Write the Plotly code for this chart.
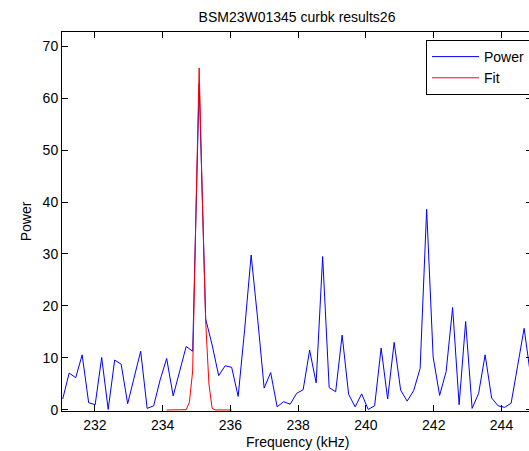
import plotly.graph_objects as go

# ---- data ----
freq_khz = [231.050, 231.242, 231.434, 231.625, 231.817, 232.009, 232.201, 232.393,
            232.584, 232.776, 232.968, 233.160, 233.352, 233.543, 233.735, 233.927,
            234.119, 234.311, 234.502, 234.694, 234.886, 235.078, 235.270, 235.461,
            235.653, 235.845, 236.037, 236.229, 236.420, 236.612, 236.804, 236.996,
            237.188, 237.379, 237.571, 237.763, 237.955, 238.147, 238.338, 238.530,
            238.722, 238.914, 239.106, 239.297, 239.489, 239.681, 239.873, 240.065,
            240.256, 240.448, 240.640, 240.832, 241.024, 241.215, 241.407, 241.599,
            241.791, 241.983, 242.174, 242.366, 242.558, 242.750, 242.942, 243.133,
            243.325, 243.517, 243.709, 243.901, 244.092, 244.284, 244.476, 244.668,
            244.860]
power = [2.1, 7.1, 6.2, 10.6, 1.4, 1.0, 10.1, 0.1,
         9.6, 8.8, 1.2, 6.4, 11.3, 0.3, 0.8, 5.8,
         9.9, 2.7, 7.7, 12.2, 11.3, 62.8, 17.5, 12.5,
         6.6, 8.5, 8.2, 2.6, 15.5, 29.8, 17.5, 4.2,
         7.2, 0.6, 1.6, 1.1, 3.2, 3.9, 11.5, 5.2,
         29.5, 4.3, 3.5, 14.4, 3.0, 0.6, 3.1, 0.1,
         0.8, 11.9, 2.1, 13.0, 3.8, 1.7, 3.7, 8.0,
         38.6, 10.2, 2.8, 7.4, 19.7, 1.0, 17.0, 0.3,
         3.2, 10.6, 2.3, 0.8, 0.5, 1.3, 8.5, 15.7,
         6.5]

fit_freq_khz = [234.119, 234.215, 234.311, 234.407, 234.502, 234.598, 234.694,
                234.790, 234.886, 234.982, 235.078, 235.174, 235.270, 235.366,
                235.461, 235.557, 235.653, 235.749, 235.845, 235.941, 236.037]
fit_power = [0.0, 0.0, 0.0, 0.0, 0.0, 0.0, 0.05,
             1.5, 7.5, 38.0, 65.8, 40.0, 17.0, 5.0,
             0.3, 0.0, 0.0, 0.0, 0.0, 0.0, 0.0]

x_ticks = [232, 234, 236, 238, 240, 242, 244]
y_ticks = [0, 10, 20, 30, 40, 50, 60, 70]

title_text = "BSM23W01345 curbk results26"
x_label = "Frequency (kHz)"
y_label = "Power"

FONT = "Liberation Sans, Arial, sans-serif"

fig = go.Figure()
fig.add_trace(go.Scatter(x=freq_khz, y=power, mode="lines", name="Power",
                         line=dict(color="#0000FF", width=1)))
fig.add_trace(go.Scatter(x=fit_freq_khz, y=fit_power, mode="lines", name="Fit",
                         line=dict(color="#FF0000", width=1)))

axis_common = dict(showline=True, linecolor="black", linewidth=1, mirror="ticks",
                   ticks="inside", ticklen=6, tickcolor="black", tickwidth=1,
                   showgrid=False, zeroline=False, automargin=False,
                   tickfont=dict(family=FONT, size=14, color="black"))

fig.update_layout(
    width=560, height=451,
    margin=dict(l=62, r=28, t=32, b=40, autoexpand=False),
    paper_bgcolor="white", plot_bgcolor="white",
    font=dict(family=FONT, size=14, color="black"),
    title=dict(text=title_text, x=0.5, xref="paper", xanchor="center",
               y=1 - 17 / 451, yref="container", yanchor="middle",
               font=dict(family=FONT, size=14, color="black")),
    xaxis=dict(range=[231.03, 244.9], tickvals=x_ticks, ticklabelstandoff=1,
               **axis_common),
    yaxis=dict(range=[-0.2, 72.7], tickvals=y_ticks,
               title=dict(text=y_label, standoff=7,
                          font=dict(family=FONT, size=14, color="black")),
               **axis_common),
    legend=dict(x=(426 - 62) / 470, y=(411 - 40) / 379, xanchor="left", yanchor="top",
                bgcolor="white", bordercolor="black", borderwidth=1,
                font=dict(family=FONT, size=14, color="black"),
                itemwidth=47, tracegroupgap=0, entrywidth=70),
    annotations=[dict(text=x_label, xref="paper", yref="paper", x=0.5, y=0,
                      xanchor="center", yanchor="middle", yshift=-31,
                      showarrow=False,
                      font=dict(family=FONT, size=14, color="black"))],
    showlegend=True,
)

fig.write_html("out.html",
               post_script="document.body.style.overflow='hidden';"
                           "document.documentElement.style.overflow='hidden';")
